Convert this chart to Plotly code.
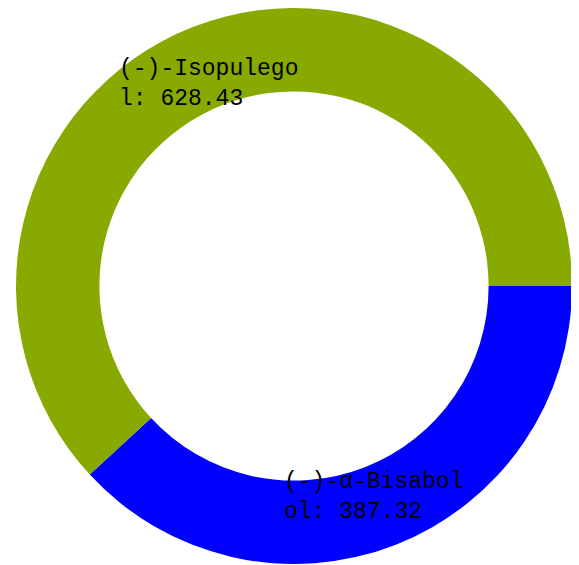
import plotly.graph_objects as go

labels = ["(-)-α-Bisabolol", "(-)-Isopulegol"]
values = [387.32, 628.43]
colors = ["#0000ff", "#88aa00"]

# label positions (paper coords) for the wrapped value labels
label_x = [0.478, 0.182]
label_y = [0.121, 0.864]

fig = go.Figure()
fig.add_trace(go.Pie(
    labels=labels,
    values=values,
    marker=dict(colors=colors, line=dict(width=0)),
    hole=0.70,
    sort=False,
    direction="clockwise",
    rotation=90,
    textinfo="none",
    hoverinfo="label+value",
    showlegend=False,
))

for lab, val, x, y in zip(labels, values, label_x, label_y):
    s = f"{lab}: {val:.2f}"
    txt = s[:13] + "<br>" + s[13:]
    fig.add_annotation(
        x=x, y=y, xref="paper", yref="paper",
        xanchor="left", yanchor="middle", align="left",
        text=txt, showarrow=False,
        font=dict(family="Liberation Mono, Courier New, monospace", size=23, color="#000000"),
    )

fig.update_layout(
    width=571, height=557,
    margin=dict(l=8, r=7, t=0, b=1),
    paper_bgcolor="#ffffff",
    plot_bgcolor="#ffffff",
)

fig.write_html("out.html")
